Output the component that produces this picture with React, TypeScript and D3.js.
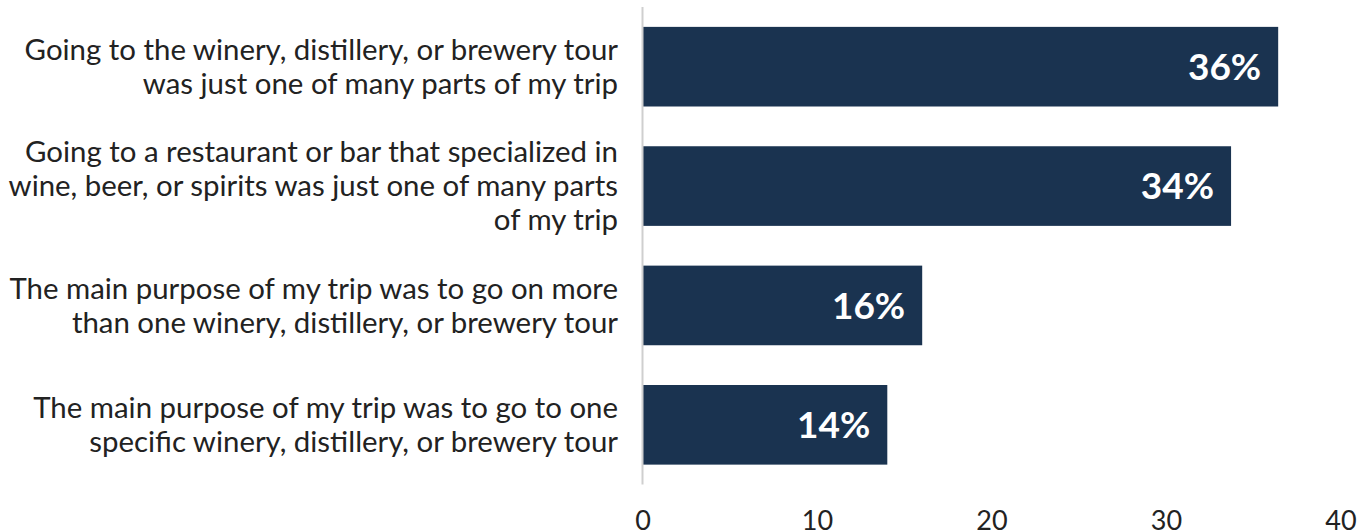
import React from "react";
import * as d3 from "d3";

const categories: string[][] = [
  ["Going to the winery, distillery, or brewery tour", "was just one of many parts of my trip"],
  ["Going to a restaurant or bar that specialized in", "wine, beer, or spirits was just one of many parts", "of my trip"],
  ["The main purpose of my trip was to go on more", "than one winery, distillery, or brewery tour"],
  ["The main purpose of my trip was to go to one", "specific winery, distillery, or brewery tour"],
];
const values: number[] = [36.4, 33.7, 16.0, 14.0];
const valueLabels: string[] = ["36%", "34%", "16%", "14%"];
const xTicks: number[] = [0, 10, 20, 30, 40];

const W = 1362;
const H = 532;
const FONT = "Lato, 'Open Sans', sans-serif";

export default function App() {
  const x = d3.scaleLinear().domain([0, 40]).range([643, 1341]);
  const y = d3
    .scaleBand<number>()
    .domain(d3.range(categories.length))
    .range([7, 484.5])
    .paddingInner(0.333)
    .paddingOuter(0.1665);
  const bw = y.bandwidth();
  const lineH = 34;

  return (
    <svg
      width={W}
      height={H}
      style={{ position: "absolute", left: 0, top: 0, background: "#fff" }}
      fontFamily={FONT}
    >
      {categories.map((lines, i) => {
        const cy = (y(i) as number) + bw / 2;
        const start = cy - ((lines.length - 1) * lineH) / 2;
        return (
          <g key={i}>
            <rect x={x(0)} y={y(i)} width={x(values[i]) - x(0)} height={bw} fill="#1a3350" />
            <text
              x={x(values[i]) - 17}
              y={cy}
              dy="0.36em"
              textAnchor="end"
              fill="#fff"
              fontWeight={700}
              fontSize={37}
            >
              {valueLabels[i]}
            </text>
            <text textAnchor="end" fill="#222" fontSize={29.4}>
              {lines.map((l, j) => (
                <tspan key={j} x={618} y={start + j * lineH} dy="0.35em">
                  {l}
                </tspan>
              ))}
            </text>
          </g>
        );
      })}
      <line x1={642.5} x2={642.5} y1={7} y2={484.5} stroke="#cfcfcf" strokeWidth={2} />
      {xTicks.map((t) => (
        <text key={t} x={x(t)} y={521} dy="0.35em" textAnchor="middle" fill="#222" fontSize={27}>
          {t}
        </text>
      ))}
    </svg>
  );
}
